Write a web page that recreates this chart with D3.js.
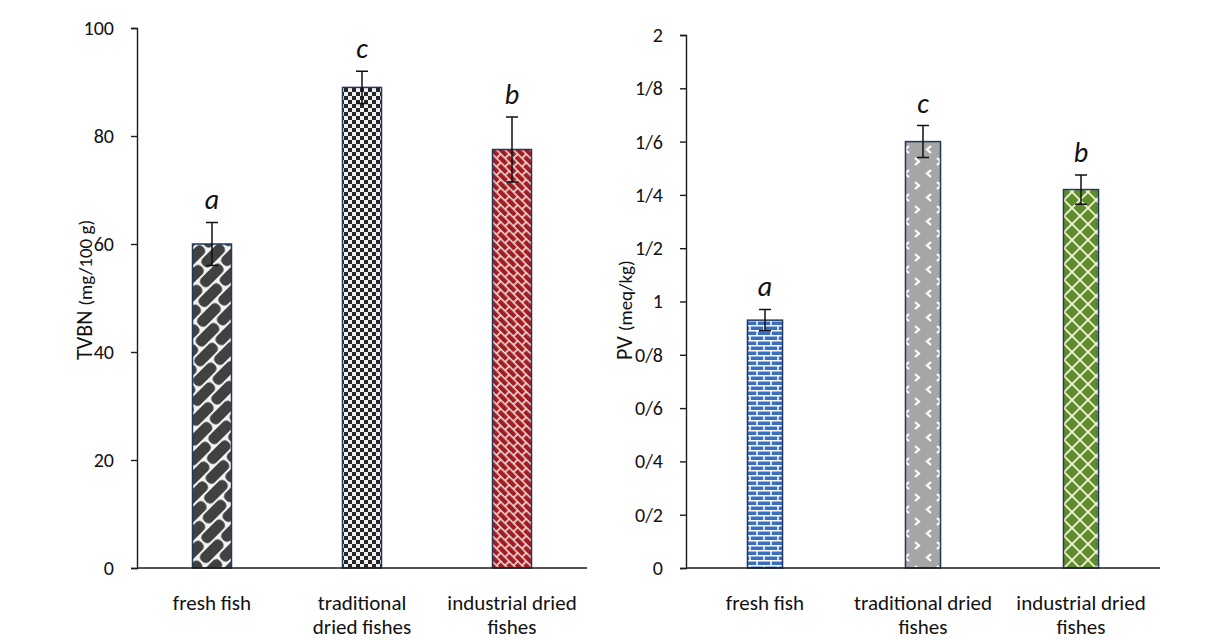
<!DOCTYPE html>
<html>
<head>
<meta charset="utf-8">
<script src="https://cdn.jsdelivr.net/npm/d3@7"></script>
<style>
  html, body { margin: 0; padding: 0; background: #ffffff; }
  svg text { font-family: Carlito, Calibri, Lato, "Open Sans", sans-serif; fill: #111; }
</style>
</head>
<body>
<svg id="chart" width="1231" height="640"></svg>
<script>
// Categories and measured values (mean ± SD) for the two quality indices
const categories = ["fresh fish", "traditional dried fishes", "industrial dried fishes"];
const tvbnLabelLines = [["fresh fish"], ["traditional", "dried fishes"], ["industrial dried", "fishes"]];
const pvLabelLines = [["fresh fish"], ["traditional dried", "fishes"], ["industrial dried", "fishes"]];

const tvbnValues = [60, 89, 77.5];
const tvbnErrors = [4, 3, 6];
const tvbnLetters = ["a", "c", "b"];
const tvbnTicks = [0, 20, 40, 60, 80, 100];

const pvValues = [0.93, 1.60, 1.42];
const pvErrors = [0.04, 0.06, 0.055];
const pvLetters = ["a", "c", "b"];
const pvTicks = [0, 0.2, 0.4, 0.6, 0.8, 1, 1.2, 1.4, 1.6, 1.8, 2];
const pvTickLabels = ["0", "0/2", "0/4", "0/6", "0/8", "1", "1/2", "1/4", "1/6", "1/8", "2"];

const svg = d3.select("#chart");
const defs = svg.append("defs");

// ---- fill patterns ----
function pattern(id, w, h, bg, transform) {
  const p = defs.append("pattern").attr("id", id)
    .attr("patternUnits", "userSpaceOnUse").attr("width", w).attr("height", h);
  if (transform) p.attr("patternTransform", transform);
  p.append("rect").attr("width", w).attr("height", h).attr("fill", bg);
  return p;
}

// dark chain of rounded links with thin white outlines
{
  const W = 30, H = 26, lw = 28, lh = 11.2, r = 5;
  const p = pattern("pWeave", W, H, "#f4f4f4", "rotate(-45)");
  const link = (x, y) => p.append("rect").attr("x", x).attr("y", y)
    .attr("width", lw).attr("height", lh).attr("rx", r).attr("fill", "#414141");
  link(1, 0.9);
  link(1 - W / 2, 0.9 + H / 2);
  link(1 + W / 2, 0.9 + H / 2);
}
// small checker board
{
  const p = pattern("pChecker", 8, 8, "#f0f0f0");
  p.append("rect").attr("x", 0).attr("y", 0).attr("width", 4).attr("height", 4).attr("fill", "#262626");
  p.append("rect").attr("x", 4).attr("y", 4).attr("width", 4).attr("height", 4).attr("fill", "#262626");
}
// diagonal brick on red
{
  const p = pattern("pDiagBrick", 12, 12, "#a11d22", "rotate(45)");
  p.append("path").attr("d", "M0,0.75H12M0,6.75H12M1,0V6.75M7,6.75V12")
    .attr("stroke", "#f6dede").attr("stroke-width", 1.6).attr("fill", "none");
}
// horizontal brick on blue
{
  const p = pattern("pBrick", 14, 10, "#3a6fc0");
  p.append("path").attr("d", "M0,0.75H14M0,5.75H14M1,0.75V5.75M8,5.75V10.75")
    .attr("stroke", "#ffffff").attr("stroke-width", 1.5).attr("fill", "none");
}
// divot on grey
{
  const p = pattern("pDivot", 22, 24, "#a6a6a6");
  p.append("path").attr("d", "M7,2L3,5.5L7,9M13,14L17,17.5L13,21")
    .attr("stroke", "#ffffff").attr("stroke-width", 2.2).attr("fill", "none");
}
// outlined diamond on green
{
  const p = pattern("pDiamond", 16, 16, "#5f8c2c");
  p.append("path").attr("d", "M0,0L16,16M16,0L0,16")
    .attr("stroke", "#f3f3d6").attr("stroke-width", 1.8).attr("fill", "none");
}

const tvbnFills = ["url(#pWeave)", "url(#pChecker)", "url(#pDiagBrick)"];
const pvFills = ["url(#pBrick)", "url(#pDivot)", "url(#pDiamond)"];

function drawPanel(cfg) {
  const g = svg.append("g");
  const x = d3.scaleBand().domain(categories)
    .range([cfg.x0, cfg.x1]).paddingInner(cfg.padIn).paddingOuter(cfg.padIn / 2);
  const y = d3.scaleLinear().domain([0, cfg.max]).range([cfg.yBottom, cfg.yTop]);

  // y axis
  const yAxis = d3.axisLeft(y).tickValues(cfg.ticks).tickSize(6).tickPadding(17)
    .tickFormat((d, i) => cfg.tickLabels ? cfg.tickLabels[i] : d3.format("d")(d));
  const ya = g.append("g").attr("transform", `translate(${cfg.x0},0)`).call(yAxis);
  ya.select(".domain").attr("stroke", "#1a1a1a").attr("stroke-width", 1.4);
  ya.selectAll(".tick line").attr("stroke", "#1a1a1a").attr("stroke-width", 1.4);
  ya.selectAll(".tick text").style("font-size", "20px").attr("fill", "#111");

  // bars
  g.selectAll("rect.bar").data(cfg.values).join("rect").attr("class", "bar")
    .attr("x", (d, i) => x(categories[i]))
    .attr("width", x.bandwidth())
    .attr("y", d => y(d))
    .attr("height", d => y(0) - y(d))
    .attr("fill", (d, i) => cfg.fills[i])
    .attr("stroke", "#22385f").attr("stroke-width", 1.5);

  // x axis line
  g.append("line").attr("x1", cfg.x0).attr("x2", cfg.x1)
    .attr("y1", y(0)).attr("y2", y(0)).attr("stroke", "#1a1a1a").attr("stroke-width", 1.4);

  // error bars and significance letters
  const cap = 6;
  cfg.values.forEach((v, i) => {
    const cx = x(categories[i]) + x.bandwidth() / 2;
    const hi = y(v + cfg.errors[i]), lo = y(v - cfg.errors[i]);
    const path = `M${cx},${hi}V${lo}M${cx - cap},${hi}H${cx + cap}M${cx - cap},${lo}H${cx + cap}`;
    g.append("path").attr("d", path).attr("stroke", "#111").attr("stroke-width", 1.5).attr("fill", "none");
    g.append("text").attr("x", cx).attr("y", hi - 13)
      .attr("text-anchor", "middle").style("font-size", "28px").style("font-style", "italic")
      .text(cfg.letters[i]);
  });

  // category labels
  cfg.labelLines.forEach((lines, i) => {
    const cx = x(categories[i]) + x.bandwidth() / 2;
    const t = g.append("text").attr("text-anchor", "middle").style("font-size", "21px");
    lines.forEach((ln, j) => {
      t.append("tspan").attr("x", cx).attr("y", 610 + j * 24).text(ln);
    });
  });

  // y axis title
  const tt = g.append("text")
    .attr("transform", `translate(${cfg.titleX},${cfg.titleY}) rotate(-90)`)
    .attr("text-anchor", "start");
  tt.append("tspan").style("font-size", "22px").text(cfg.titleMain + " ");
  tt.append("tspan").style("font-size", "19px").text(cfg.titleUnit);
}

drawPanel({
  x0: 137, x1: 587, padIn: 0.74, yBottom: 568, yTop: 28, max: 100,
  ticks: tvbnTicks, tickLabels: null, values: tvbnValues, errors: tvbnErrors,
  letters: tvbnLetters, fills: tvbnFills, labelLines: tvbnLabelLines,
  titleX: 92, titleY: 360, titleMain: "TVBN", titleUnit: "(mg/100 g)"
});

drawPanel({
  x0: 686, x1: 1160, padIn: 0.778, yBottom: 568, yTop: 35, max: 2,
  ticks: pvTicks, tickLabels: pvTickLabels, values: pvValues, errors: pvErrors,
  letters: pvLetters, fills: pvFills, labelLines: pvLabelLines,
  titleX: 632, titleY: 360, titleMain: "PV", titleUnit: "(meq/kg)"
});
</script>
</body>
</html>
